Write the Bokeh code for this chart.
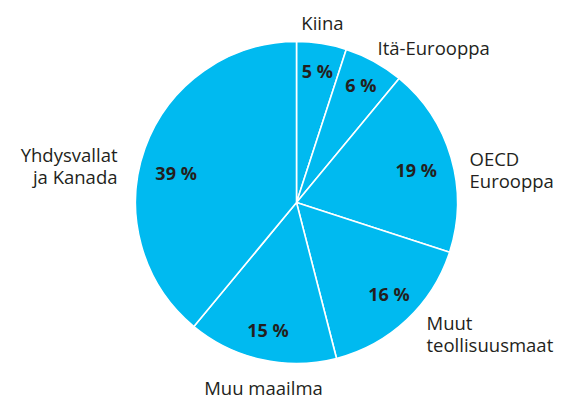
import math
from bokeh.plotting import figure
from bokeh.models import Range1d, ColumnDataSource
from bokeh.core.properties import value
from bokeh.embed import file_html
from bokeh.resources import INLINE

# ---- data ----
categories = ["Kiina", "Itä-Eurooppa", "OECD\nEurooppa", "Muut\nteollisuusmaat",
              "Muu maailma", "Yhdysvallat\nja Kanada"]
shares = [5, 6, 19, 16, 15, 39]

# ---- layout / style ----
W, H = 566, 402
CX, CY, R = 296, -202, 161
FILL = "#00baf0"
TXT = "#231f20"
FONT = value("Open Sans")
pct_r = [0.83, 0.83, 0.77, 0.81, 0.81, 0.77]
pct_nudge = [0, 0, -1, 2, 0, 6]
# name label anchors (page px) and alignment
name_pos = [(322, -22, "center"), (377, -47, "left"), (469, -169, "left"),
            (426, -333, "left"), (263, -387, "center"), (117, -165, "right")]

total = float(sum(shares))
starts, ends, mids = [], [], []
c = 0.0
for s in shares:
    a0 = math.pi / 2 - 2 * math.pi * c / total
    c += s
    a1 = math.pi / 2 - 2 * math.pi * c / total
    starts.append(a0)
    ends.append(a1)
    mids.append((a0 + a1) / 2)

p = figure(width=W, height=H, output_backend="svg", toolbar_location=None,
           x_range=Range1d(0, W), y_range=Range1d(-H, 0),
           min_border=0)
p.axis.visible = False
p.grid.visible = False
p.outline_line_color = None
p.background_fill_color = "white"

src = ColumnDataSource(dict(start=starts, end=ends))
p.wedge(x=CX, y=CY, radius=R, start_angle="start", end_angle="end",
        direction="clock", fill_color=FILL, line_color="white", line_width=1.6,
        source=src)

# percentage labels
px, py, pt = [], [], []
for i, s in enumerate(shares):
    a = mids[i] + math.radians(pct_nudge[i])
    px.append(CX + pct_r[i] * R * math.cos(a))
    py.append(CY + pct_r[i] * R * math.sin(a))
    pt.append(f"{s} %")
p.text(x=px, y=py, text=pt, text_align="center", text_baseline="middle",
       text_font=FONT, text_font_size="18px", text_font_style="bold",
       text_color=TXT)

# category labels
for (x, y, al), name in zip(name_pos, categories):
    p.text(x=[x], y=[y], text=[name], text_align=al, text_baseline="middle",
           text_font=FONT, text_font_size="18.5px", text_color=TXT,
           text_line_height=0.9)

open("out.html", "w").write(file_html(p, INLINE))
